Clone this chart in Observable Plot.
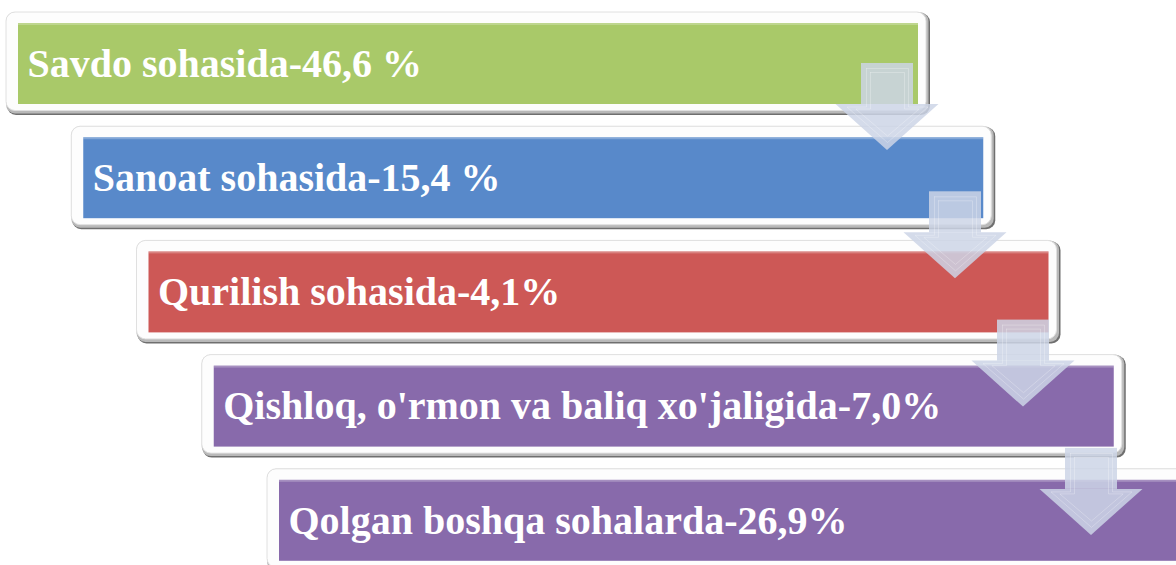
<!DOCTYPE html>
<html>
<head>
<meta charset="utf-8">
<script src="https://cdn.jsdelivr.net/npm/d3@7"></script>
<script src="https://cdn.jsdelivr.net/npm/@observablehq/plot@0.6"></script>
<style>
  html, body { margin: 0; padding: 0; background: #ffffff; }
  #chart svg { display: block; }
</style>
</head>
<body>
<div id="chart"></div>
<script>
// ---- data ----
const steps = [
  "Savdo sohasida",
  "Sanoat sohasida",
  "Qurilish sohasida",
  "Qishloq, o'rmon va baliq xo'jaligida",
  "Qolgan boshqa sohalarda"
];
const shares = [46.6, 15.4, 4.1, 7.0, 26.9];
const percentGap = [" ", " ", "", "", ""];

// ---- styles ----
const colors = ["#a9c969", "#5889ca", "#cd5856", "#886aab", "#886aab"];
const arrowFill = "#cdd5e6";

// ---- layout (staggered process diagram) ----
const W = 1176, H = 565;
const layout = {x0: 6, dx: 65.25, y0: 12, dy: 114.2, w: 922, padL: 12, padR: 10, padT: 11, fillH: 81, padB: 8,
                arrowX0: 887, arrowDx: 68, tip0: 150, tipDy: 128.3, head: 46, shaft: 41, shaftW: 52, headW: 103};

const fmt = v => v.toFixed(1).replace(".", ",");
const boxes = steps.map((s, i) => {
  const ox1 = layout.x0 + layout.dx * i, ox2 = ox1 + layout.w;
  const oy1 = layout.y0 + layout.dy * i;
  const fx1 = ox1 + layout.padL, fx2 = ox2 - layout.padR;
  const fy1 = oy1 + layout.padT, fy2 = fy1 + layout.fillH;
  const oy2 = fy2 + layout.padB;
  return {i, label: `${s}-${fmt(shares[i])}${percentGap[i]}%`, color: colors[i], ox1, ox2, oy1, oy2, fx1, fx2, fy1, fy2};
});

const arrows = d3.range(steps.length - 1).map(k => {
  const cx = layout.arrowX0 + layout.arrowDx * k;
  const tip = layout.tip0 + layout.tipDy * k;
  const base = tip - layout.head;
  const top = base - layout.shaft;
  return {k, cx, tip, base, top};
});
const heads = arrows.flatMap(a => [
  {k: a.k, y: a.base, x1: a.cx - layout.headW / 2, x2: a.cx + layout.headW / 2},
  {k: a.k, y: a.tip, x1: a.cx, x2: a.cx}
]);
function inset(a, d) {
  const sw = layout.shaftW / 2 - d, hw = layout.headW / 2 - d * 2.2;
  return [
    [a.cx - sw, a.top + d], [a.cx - sw, a.base + d * 0.5], [a.cx - hw, a.base + d * 0.5],
    [a.cx, a.tip - d * 1.6], [a.cx + hw, a.base + d * 0.5], [a.cx + sw, a.base + d * 0.5],
    [a.cx + sw, a.top + d], [a.cx - sw, a.top + d]
  ].map(([x, y]) => ({k: a.k + "-" + d, x, y}));
}
const outlines = arrows.flatMap(a => [...inset(a, 5), ...inset(a, 9)]);

const chart = Plot.plot({
  width: W, height: H,
  margin: 0,
  x: {type: "identity", axis: null},
  y: {type: "identity", axis: null},
  style: {background: "#ffffff"},
  marks: [
    // frame shadow / bevel
    Plot.rect(boxes, {x1: d => d.ox1 + 1, x2: d => d.ox2 + 2, y1: d => d.oy1 + 1, y2: d => d.oy2 + 3, fill: "#6f6f6f", rx: 9}),
    Plot.rect(boxes, {x1: d => d.ox1, x2: d => d.ox2 + 0.5, y1: d => d.oy1, y2: d => d.oy2 + 1.5, fill: "#b9b9b9", rx: 9}),
    Plot.rect(boxes, {x1: d => d.ox1, x2: d => d.ox2 - 2, y1: d => d.oy1, y2: d => d.oy2 - 1.5, fill: "#fdfdfd", stroke: "#e0e0e0", strokeWidth: 1, rx: 9}),
    // coloured fills
    Plot.rect(boxes, {x1: "fx1", x2: "fx2", y1: "fy1", y2: "fy2", fill: "color"}),
    Plot.rect(boxes, {x1: "fx1", x2: "fx2", y1: "fy1", y2: d => d.fy1 + 2, fill: "#ffffff", fillOpacity: 0.25}),
    Plot.text(boxes, {x: d => d.fx1 + 9, y: d => (d.fy1 + d.fy2) / 2, text: "label", textAnchor: "start", lineAnchor: "middle",
      fill: "#ffffff", fontFamily: "'Liberation Serif', 'Times New Roman', serif", fontWeight: "bold", fontSize: 40}),
    // arrows
    Plot.rect(arrows, {x1: d => d.cx - layout.shaftW / 2, x2: d => d.cx + layout.shaftW / 2, y1: "top", y2: "base", fill: arrowFill, fillOpacity: 0.85}),
    Plot.areaX(heads, {y: "y", x1: "x1", x2: "x2", z: "k", fill: arrowFill, fillOpacity: 0.85, curve: "linear"}),
    Plot.line(outlines, {x: "x", y: "y", z: "k", stroke: "#ffffff", strokeOpacity: 0.25, strokeWidth: 1, curve: "linear"})
  ]
});
document.getElementById("chart").append(chart);
</script>
</body>
</html>
